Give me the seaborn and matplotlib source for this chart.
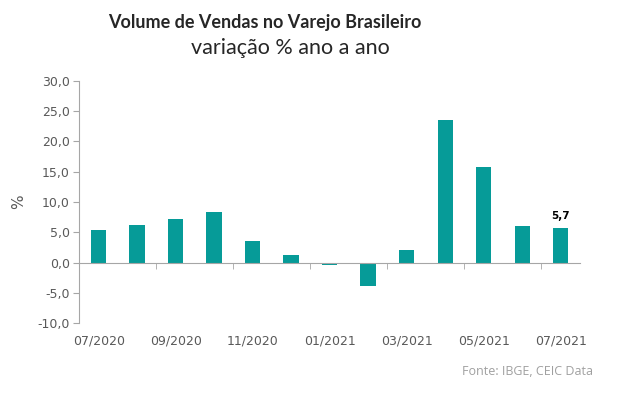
import numpy as np
import pandas as pd
import matplotlib
matplotlib.use("Agg")
import matplotlib.pyplot as plt
import seaborn as sns

# Dados (variação % ano a ano)
meses = ["07/2020", "08/2020", "09/2020", "10/2020", "11/2020", "12/2020",
         "01/2021", "02/2021", "03/2021", "04/2021", "05/2021", "06/2021", "07/2021"]
variacao = [5.4, 6.2, 7.2, 8.3, 3.5, 1.2, -0.4, -3.9, 2.0, 23.6, 15.8, 6.1, 5.7]
yticks = [-10, -5, 0, 5, 10, 15, 20, 25, 30]

df = pd.DataFrame({"mes": meses, "var": variacao})

sns.set_style("white")
plt.rcParams['font.family'] = ['DejaVu Sans']

cor_barra = "#069B98"
cor_eixo = "#A6A6A6"
cor_texto = "#595959"

fig = plt.figure(figsize=(6.25, 3.93), dpi=100)
ax = fig.add_axes([0.127, 0.178, 0.801, 0.616])

sns.barplot(data=df, x="mes", y="var", color=cor_barra, width=0.4,
            saturation=1, linewidth=0, ax=ax)

ax.set_xlim(-0.5, len(meses) - 0.5)
ax.set_ylim(-10, 30)
ax.set_yticks(yticks)
ax.set_yticklabels([f"{v:.1f}".replace(".", ",") for v in yticks],
                   color=cor_texto, fontsize=9)

# eixo de categorias cruzando no zero
for s in ["top", "right"]:
    ax.spines[s].set_visible(False)
ax.spines["left"].set_color(cor_eixo)
ax.spines["bottom"].set_position(("data", 0))
ax.spines["bottom"].set_color(cor_eixo)
ax.tick_params(axis="y", left=True, length=4, color=cor_eixo, pad=3)

pos = np.arange(len(meses))
ax.set_xticks(pos[::2])
ax.set_xticklabels(meses[::2], color=cor_texto, fontsize=9)
ax.tick_params(axis="x", which="major", length=0, pad=52)
ax.set_xticks(pos[1:-1:2] + 0.5, minor=True)
ax.tick_params(axis="x", which="minor", bottom=True, length=4,
               color=cor_eixo, direction="out")

ax.set_xlabel("")
ax.set_ylabel("%", color=cor_texto, fontsize=11, labelpad=8)

# rótulo do último valor
ax.text(pos[-1], variacao[-1] + 1.2, f"{variacao[-1]:.1f}".replace(".", ","),
        ha="center", va="bottom", fontsize=7.5, fontweight="bold", color="black")

fig.text(0.424, 0.944, "Volume de Vendas no Varejo Brasileiro", ha="center",
         va="center", fontsize=13, fontweight="bold", family=["Lato", "DejaVu Sans"])
fig.text(0.464, 0.878, "variação % ano a ano", ha="center", va="center",
         fontsize=15.5, family=["Lato", "DejaVu Sans"])
fig.text(0.948, 0.055, "Fonte: IBGE, CEIC Data", ha="right", va="center",
         fontsize=9, color="#A0A0A0", family=["Open Sans", "DejaVu Sans"])

fig.savefig("out.png", dpi=100)
